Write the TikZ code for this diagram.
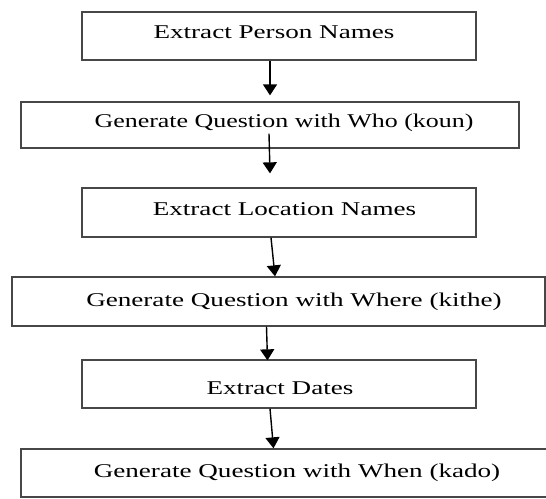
\documentclass[tikz,border=0pt]{standalone}
\usepackage{fontspec}
\setmainfont{Liberation Serif}
\usetikzlibrary{arrows.meta}
% wide lettering used in the step boxes
\newcommand{\widetext}[2][1.39]{\scalebox{#1}[1]{#2}}
\tikzset{
  stepbox/.style={draw=black!72, line width=1.3pt, inner sep=0pt, fill=none},
  steplabel/.style={anchor=base, inner sep=0pt, text=black,
    font=\fontsize{19.5}{23}\selectfont},
  flow/.style={draw=black, line width=1.4pt,
    -{Triangle[width=14pt,length=11pt]}},
}
\begin{document}
\begin{tikzpicture}[x=1pt, y=-1pt]
  \useasboundingbox (0,0) rectangle (546,498);

  % boxes
  \node[stepbox, minimum width=394pt, minimum height=48pt] (b1) at (279,36) {};
  \node[stepbox, minimum width=498pt, minimum height=46pt] (b2) at (270,125) {};
  \node[stepbox, minimum width=394pt, minimum height=49pt] (b3) at (279,212.5) {};
  \node[stepbox, minimum width=533pt, minimum height=49pt] (b4) at (278.5,301.5) {};
  \node[stepbox, minimum width=394pt, minimum height=48pt] (b5) at (279,384) {};
  \node[stepbox, minimum width=551pt, minimum height=48pt] (b6) at (296.5,473) {};

  % texts
  \node[steplabel] (t1) at (274,38) {\widetext{Extract Person Names}};
  \node[steplabel] (t2) at (284,127) {\widetext[1.33]{Generate Question with Who (koun)}};
  \node[steplabel] (t3) at (284.5,215) {\widetext{Extract Location Names}};
  \node[steplabel] (t4) at (294,306.5) {\widetext{Generate Question with Where (kithe)}};
  \node[steplabel] (t5) at (280,394) {\widetext{Extract Dates}};
  \node[steplabel] (t6) at (297,477) {\widetext{Generate Question with When (kado)}};

  % connectors
  \draw[flow] ([xshift=-9pt]b1.south) -- ([yshift=6pt]b2.north);
  \draw[flow] ([xshift=-1pt,yshift=15pt]b2.south) -- ([xshift=-9pt,yshift=14pt]b3.north);
  \draw[flow] ([xshift=-8pt]b3.south) -- ([xshift=-3.5pt]b4.north);
  \draw[flow] ([xshift=-12pt]b4.south) -- ([xshift=-11.5pt,yshift=-1pt]b5.north);
  \draw[flow] ([xshift=-9pt]b5.south) -- ([xshift=-23pt]b6.north);
\end{tikzpicture}
\end{document}
